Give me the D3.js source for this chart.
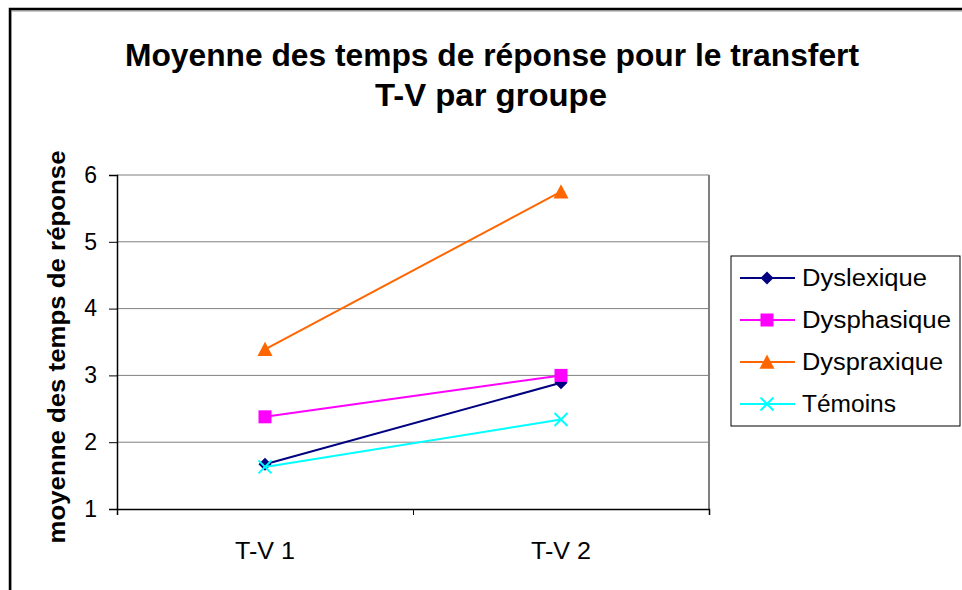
<!DOCTYPE html>
<html>
<head>
<meta charset="utf-8">
<script src="https://cdn.jsdelivr.net/npm/d3@7"></script>
<style>
  body { margin: 0; background: #fff; }
  svg { display: block; font-family: "Liberation Sans", Arial, sans-serif; }
</style>
</head>
<body>
<svg id="chart"></svg>
<script>
let width = 962
let height = 590

// data
let categories = ['T-V 1', 'T-V 2']
let seriesNames = ['Dyslexique', 'Dysphasique', 'Dyspraxique', 'Témoins']
let dyslexique = [1.67, 2.89]
let dysphasique = [2.38, 3.0]
let dyspraxique = [3.39, 5.75]
let temoins = [1.63, 2.34]
let yTicks = [1, 2, 3, 4, 5, 6]

let colors = ['#000080', '#FF00FF', '#FF6600', '#00FFFF']
let symbols = ['diamond', 'square', 'triangle', 'cross']
let allValues = [dyslexique, dysphasique, dyspraxique, temoins]

let plot = { left: 117, right: 709, top: 175, bottom: 509 }

let svg = d3.select('#chart').attr('width', width).attr('height', height)

// outer frame (runs off the page on the right and bottom)
svg.append('rect')
   .attr('x', 11).attr('y', 11)
   .attr('width', 1000).attr('height', 1000)
   .attr('fill', 'none').attr('stroke', '#c8c8c8').attr('stroke-width', 2)
svg.append('rect')
   .attr('x', 10).attr('y', 9)
   .attr('width', 1000).attr('height', 1000)
   .attr('fill', 'none').attr('stroke', '#000').attr('stroke-width', 2.5)

let xScale = d3.scaleBand()
               .domain(categories)
               .range([plot.left, plot.right])

let yScale = d3.scaleLinear()
               .domain([1, 6])
               .range([plot.bottom, plot.top])

// title
let title = svg.append('text')
   .attr('text-anchor', 'middle')
   .attr('font-weight', 'bold')
   .attr('font-size', 31)
   .attr('fill', '#000')
title.append('tspan').attr('x', 492).attr('y', 66)
     .attr('textLength', 734).attr('lengthAdjust', 'spacingAndGlyphs')
     .text('Moyenne des temps de réponse pour le transfert')
title.append('tspan').attr('x', 491).attr('y', 106)
     .attr('textLength', 232).attr('lengthAdjust', 'spacingAndGlyphs')
     .text('T-V par groupe')

// gridlines
svg.append('g')
   .selectAll('line')
   .data(yTicks.slice(1))
   .enter()
   .append('line')
   .attr('x1', plot.left).attr('x2', plot.right)
   .attr('y1', d => yScale(d)).attr('y2', d => yScale(d))
   .attr('stroke', '#808080').attr('stroke-width', 1)

// right border of the plot
svg.append('line')
   .attr('x1', plot.right).attr('x2', plot.right)
   .attr('y1', plot.top).attr('y2', plot.bottom)
   .attr('stroke', '#808080').attr('stroke-width', 2)

// y axis
let yAxis = d3.axisLeft(yScale)
              .tickValues(yTicks)
              .tickSize(8)
              .tickPadding(12)
              .tickFormat(d3.format('d'))
let gy = svg.append('g')
   .attr('transform', 'translate(' + plot.left + ', 0)')
   .call(yAxis)
gy.select('.domain').attr('stroke', '#000').attr('stroke-width', 1.5)
gy.selectAll('.tick line').attr('stroke', '#000')
gy.selectAll('.tick text')
  .attr('font-size', 23).attr('fill', '#000')
  .attr('font-family', '"Liberation Sans", Arial, sans-serif')

// x axis
let xAxis = d3.axisBottom(d3.scalePoint().domain([0, 1, 2]).range([plot.left, plot.right]))
              .tickSize(6)
              .tickFormat('')
let gx = svg.append('g')
   .attr('transform', 'translate(0, ' + plot.bottom + ')')
   .call(xAxis)
gx.select('.domain').attr('stroke', '#000').attr('stroke-width', 1.5)
gx.selectAll('.tick line').attr('stroke', '#000')

svg.append('g')
   .selectAll('text')
   .data(categories)
   .enter()
   .append('text')
   .attr('x', d => xScale(d) + xScale.bandwidth() / 2)
   .attr('y', 559)
   .attr('text-anchor', 'middle')
   .attr('font-size', 23)
   .attr('textLength', 60).attr('lengthAdjust', 'spacingAndGlyphs')
   .text(d => d)

// y title
svg.append('text')
   .attr('transform', 'translate(65, ' + 347 + ') rotate(-90)')
   .attr('text-anchor', 'middle')
   .attr('font-weight', 'bold')
   .attr('font-size', 24)
   .attr('textLength', 393).attr('lengthAdjust', 'spacingAndGlyphs')
   .text('moyenne des temps de réponse')

let symbolPath = (type, size) => {
    if (type === 'diamond') {
        return 'M0,' + (-size) + 'L' + size + ',0L0,' + size + 'L' + (-size) + ',0Z'
    } else if (type === 'square') {
        return 'M' + (-size) + ',' + (-size) + 'H' + size + 'V' + size + 'H' + (-size) + 'Z'
    } else if (type === 'triangle') {
        return 'M0,' + (-size) + 'L' + size + ',' + size * 0.9 + 'L' + (-size) + ',' + size * 0.9 + 'Z'
    } else {
        return 'M' + (-size) + ',' + (-size) + 'L' + size + ',' + size + 'M' + size + ',' + (-size) + 'L' + (-size) + ',' + size
    }
}
let symbolSize = [6.5, 6.5, 7.5, 6.5]

let line = d3.line()
             .x((d, i) => xScale(categories[i]) + xScale.bandwidth() / 2)
             .y(d => yScale(d))

let drawMarker = (g, s) => {
    let p = g.append('path').attr('d', symbolPath(symbols[s], symbolSize[s]))
    if (symbols[s] === 'cross') {
        p.attr('fill', 'none').attr('stroke', colors[s]).attr('stroke-width', 2)
    } else {
        p.attr('fill', colors[s])
    }
}

allValues.forEach((vals, s) => {
    svg.append('path')
       .datum(vals)
       .attr('d', line)
       .attr('fill', 'none')
       .attr('stroke', colors[s])
       .attr('stroke-width', 2)
    vals.forEach((v, i) => {
        let g = svg.append('g')
           .attr('transform', 'translate(' + (xScale(categories[i]) + xScale.bandwidth() / 2) + ',' + yScale(v) + ')')
        drawMarker(g, s)
    })
})

// legend
let legendWidths = [125, 149, 141, 94]
let legend = svg.append('g').attr('transform', 'translate(731, 256)')
legend.append('rect')
      .attr('x', 0).attr('y', 0)
      .attr('width', 229).attr('height', 170)
      .attr('fill', '#fff').attr('stroke', '#000').attr('stroke-width', 1)
seriesNames.forEach((name, s) => {
    let row = legend.append('g').attr('transform', 'translate(0, ' + (22 + s * 42) + ')')
    row.append('line')
       .attr('x1', 9).attr('x2', 64)
       .attr('y1', 0).attr('y2', 0)
       .attr('stroke', colors[s]).attr('stroke-width', 2)
    let m = row.append('g').attr('transform', 'translate(36, 0)')
    drawMarker(m, s)
    row.append('text')
       .attr('x', 71).attr('y', 8)
       .attr('font-size', 23)
       .attr('textLength', legendWidths[s]).attr('lengthAdjust', 'spacingAndGlyphs')
       .text(name)
})
</script>
</body>
</html>
